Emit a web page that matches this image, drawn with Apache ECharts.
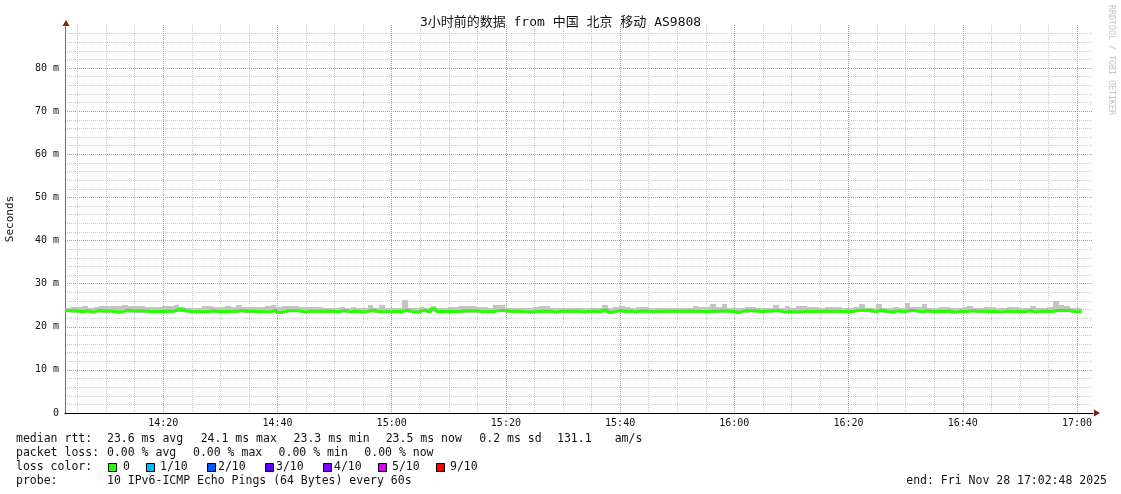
<!DOCTYPE html>
<html><head><meta charset="utf-8">
<script src="https://cdn.jsdelivr.net/npm/echarts@6/dist/echarts.min.js"></script>
<style>html,body{margin:0;padding:0;background:#fff}#c{width:1121px;height:494px}</style>
</head><body><div id="c"></div><script>
// ---------- data ----------
const chartTitle = '3小时前的数据 from 中国 北京 移动 AS9808';
const axisStart = '14:02:48';
const axisEnd = '17:02:48';
const firstBucket = '14:02:48';
const bucketMinutes = 1;
const xTickLabels = ['14:20','14:40','15:00','15:20','15:40','16:00','16:20','16:40','17:00'];
const yTickValues = [0,10,20,30,40,50,60,70,80];
const yUnit = 'm';
const yName = 'Seconds';

const median = [
23.7,23.7,23.5,23.7,23.35,23.8,23.65,23.65,23.4,23.4,
23.85,23.7,23.7,23.7,23.55,23.55,23.55,23.6,23.6,24.0,
23.9,23.5,23.5,23.5,23.5,23.7,23.55,23.55,23.55,23.6,
23.8,23.6,23.6,23.5,23.5,23.4,23.85,23.3,23.7,23.7,
23.7,23.4,23.6,23.6,23.6,23.6,23.6,23.5,23.8,23.5,
23.65,23.35,23.55,23.9,23.5,23.5,23.5,23.55,23.55,23.85,
23.45,23.45,23.85,23.4,24.1,23.55,23.55,23.55,23.55,23.7,
23.7,23.7,23.5,23.5,23.5,23.75,23.75,23.6,23.6,23.55,
23.4,23.4,23.6,23.6,23.6,23.35,23.6,23.6,23.6,23.6,
23.45,23.6,23.6,23.4,23.9,23.35,23.75,23.6,23.6,23.45,
23.65,23.65,23.45,23.6,23.6,23.6,23.6,23.6,23.6,23.6,
23.6,23.55,23.55,23.65,23.65,23.65,23.55,23.35,23.7,23.7,
23.7,23.5,23.65,23.65,23.75,23.4,23.55,23.45,23.45,23.6,
23.55,23.6,23.6,23.6,23.6,23.55,23.55,23.55,23.85,23.85,
23.85,23.45,23.9,23.5,23.5,23.7,23.5,23.75,23.75,23.45,
23.7,23.55,23.55,23.6,23.6,23.35,23.55,23.55,23.75,23.6,
23.6,23.55,23.55,23.4,23.65,23.55,23.55,23.5,23.75,23.4,
23.6,23.6,23.6,23.75,23.75,23.75,23.5,23.5
];
const smokeHi = [
24.45,24.6,24.6,24.9,24.45,24.5,24.9,24.9,24.9,24.9,
25.1,24.75,24.75,24.75,24.6,24.6,24.6,24.75,24.75,25.1,
24.6,24.45,24.45,24.45,24.75,24.75,24.6,24.6,24.75,24.5,
25.1,24.6,24.6,24.6,24.6,24.75,25.1,24.6,24.75,24.75,
24.75,24.6,24.6,24.6,24.6,24.45,24.45,24.3,24.5,24.25,
24.6,24.3,24.45,25.1,24.45,25.1,24.3,24.45,24.45,26.2,
24.3,24.3,24.6,24.45,24.75,24.45,24.45,24.6,24.6,24.9,
24.9,24.9,24.6,24.6,24.45,25.1,25.1,24.45,24.45,24.3,
24.3,24.3,24.6,24.9,24.9,24.45,24.3,24.3,24.3,24.3,
24.25,24.45,24.45,24.45,25.1,24.3,24.6,24.9,24.6,24.3,
24.6,24.6,24.3,24.45,24.45,24.3,24.3,24.45,24.45,24.45,
24.9,24.6,24.6,25.2,24.6,25.2,24.45,24.3,24.45,24.6,
24.6,24.45,24.45,24.45,25.1,24.3,24.75,24.45,24.75,24.75,
24.6,24.6,24.45,24.6,24.6,24.6,24.45,24.45,24.6,25.2,
24.45,24.45,25.2,24.45,24.45,24.6,24.45,25.4,24.6,24.6,
25.2,24.45,24.45,24.6,24.6,24.3,24.3,24.6,24.9,24.45,
24.45,24.6,24.6,24.3,24.45,24.6,24.6,24.45,24.3,24.9,
24.45,24.45,24.6,26.0,25.1,24.9,24.45,24.45
];
const smokeLo = [
23.4,23.3,23.2,23.4,23.1,23.4,23.3,23.3,23.1,23.2,
23.5,23.3,23.2,23.3,23.2,23.3,23.3,23.3,23.3,23.5,
23.5,23.2,23.2,23.3,23.2,23.4,23.3,23.2,23.3,23.3,
23.4,23.3,23.3,23.2,23.2,23.1,23.4,23.0,23.3,23.4,
23.4,23.1,23.3,23.3,23.3,23.2,23.2,23.1,23.4,23.2,
23.3,23.1,23.2,23.5,23.2,23.2,23.1,23.2,23.3,23.5,
23.2,23.1,23.5,23.1,23.5,23.2,23.2,23.3,23.2,23.3,
23.2,23.3,23.1,23.2,23.1,23.4,23.4,23.3,23.2,23.2,
23.1,23.0,23.3,23.3,23.2,23.1,23.3,23.3,23.2,23.3,
23.1,23.3,23.3,23.1,23.5,23.1,23.4,23.3,23.3,23.1,
23.3,23.3,23.1,23.3,23.3,23.2,23.3,23.3,23.2,23.3,
23.3,23.2,23.2,23.3,23.3,23.3,23.2,23.0,23.4,23.3,
23.4,23.2,23.3,23.3,23.4,23.1,23.2,23.1,23.2,23.3,
23.2,23.3,23.3,23.3,23.3,23.2,23.2,23.3,23.5,23.5,
23.5,23.2,23.5,23.2,23.2,23.4,23.2,23.4,23.4,23.1,
23.4,23.2,23.2,23.3,23.3,23.0,23.2,23.2,23.4,23.3,
23.3,23.2,23.2,23.1,23.3,23.2,23.2,23.2,23.4,23.1,
23.3,23.3,23.3,23.4,23.4,23.4,23.2,23.2
];

const rowMedian = ['median rtt:', '23.6 ms avg', '24.1 ms max', '23.3 ms min', '23.5 ms now', '0.2 ms sd', '131.1', 'am/s'];
const rowLoss = ['packet loss:', '0.00 % avg', '0.00 % max', '0.00 % min', '0.00 % now'];
const lossLabel = 'loss color:';
const lossNames = ['0', '1/10', '2/10', '3/10', '4/10', '5/10', '9/10'];
const lossColors = ['#26ff00', '#00b8ff', '#0059ff', '#5e00ff', '#7e00ff', '#dd00ff', '#ff0000'];
const rowProbe = ['probe:', '10 IPv6-ICMP Echo Pings (64 Bytes) every 60s'];
const endText = 'end: Fri Nov 28 17:02:48 2025';
const watermark = 'RRDTOOL / TOBI OETIKER';

// ---------- helpers ----------
function toMin(s) { const p = s.split(':').map(Number); return p[0]*60 + p[1] + (p[2]||0)/60; }
function fmtMin(v) { const h = Math.floor(v/60), m = Math.round(v - h*60); return String(h).padStart(2,'0') + ':' + String(m).padStart(2,'0'); }

const x0 = toMin(firstBucket);
const xs = median.map((_, i) => x0 + i*bucketMinutes);
xs.push(x0 + median.length*bucketMinutes);
const medData = median.concat([median[median.length-1]]).map((v, i) => [xs[i], v]);
const smokeData = smokeHi.map((v, i) => [xs[i], xs[i+1], smokeLo[i], v]);

const xMin = toMin(axisStart), xMax = toMin(axisEnd);
const majorTimes = xTickLabels.map(toMin);
const minorTimes = [];
for (let t = Math.ceil(xMin/5)*5; t <= xMax; t += 5) {
  if (majorTimes.indexOf(t) < 0) minorTimes.push(t);
}

// ---------- layout ----------
const MONO = '"DejaVu Sans Mono", "Noto Sans CJK SC", monospace';
const LF = '11.5px ' + MONO;
const rowY = [439.5, 453.5, 467.5, 481.5];
const rowMedianX = [16, 107, 200.7, 293.6, 385.7, 479.3, 557, 614.7];
const rowLossX = [16, 107, 193, 278.6, 364.3];
const boxX = [108, 145.7, 206.8, 265, 323, 378, 435.7];
const boxTextX = [123, 160, 218, 276, 334, 392, 450];
const MAJOR = '#f58080', MINOR = '#cacaca';

const g = [];
function txt(x, y, s, font, opts) {
  g.push(Object.assign({ type: 'text', x: x, y: y, silent: true,
    style: Object.assign({ text: s, font: font, fill: '#111', align: 'left', verticalAlign: 'middle' }, (opts && opts.style) || {}) },
    (opts && opts.el) || {}));
}
rowMedian.forEach((s, i) => txt(rowMedianX[i], rowY[0], s, LF));
rowLoss.forEach((s, i) => txt(rowLossX[i], rowY[1], s, LF));
txt(16, rowY[2], lossLabel, LF);
lossNames.forEach((s, i) => {
  g.push({ type: 'rect', silent: true, shape: { x: Math.round(boxX[i]) + 0.5, y: Math.round(rowY[2] - 4.5) + 0.5, width: 8, height: 8 },
    style: { fill: lossColors[i], stroke: '#000', lineWidth: 1 } });
  txt(boxTextX[i], rowY[2], s, LF);
});
txt(16, rowY[3], rowProbe[0], LF);
txt(107, rowY[3], rowProbe[1], LF);
txt(1107, rowY[3], endText, LF, { style: { align: 'right' } });
txt(560.5, 22.5, chartTitle, '13px ' + MONO, { style: { align: 'center' } });
txt(10, 219, yName, '11px ' + MONO, { style: { align: 'center' }, el: { rotation: Math.PI/2 } });
txt(1111, 5, watermark, '8.3px ' + MONO, { style: { fill: '#c4c4c4' }, el: { rotation: -Math.PI/2 } });
// axis arrows
g.push({ type: 'polygon', silent: true, shape: { points: [[62.5, 26], [69.5, 26], [66, 20]] }, style: { fill: '#801f1f' } });
g.push({ type: 'polygon', silent: true, shape: { points: [[1094, 409.5], [1094, 416.5], [1100, 413]] }, style: { fill: '#801f1f' } });

const chart = echarts.init(document.getElementById('c'), null, { renderer: 'canvas' });
chart.setOption({
  animation: false,
  backgroundColor: '#fff',
  grid: { left: 65, right: 28, top: 25, bottom: 81, containLabel: false },
  xAxis: [{
    type: 'value', min: xMin, max: xMax, position: 'bottom',
    axisLine: { show: true, onZero: false, lineStyle: { color: '#000', width: 1 } },
    axisTick: { show: false, customValues: majorTimes },
    splitLine: { show: true, lineStyle: { color: MAJOR, type: [1, 1], width: 1 } },
    axisLabel: {
      customValues: majorTimes,
      formatter: v => fmtMin(v),
      margin: 5, fontSize: 10, fontFamily: MONO, color: '#111'
    }
  }, {
    type: 'value', min: xMin, max: xMax, position: 'top',
    axisLine: { show: false },
    axisTick: { show: false, customValues: minorTimes },
    axisLabel: { show: false },
    splitLine: { show: true, lineStyle: { color: MINOR, type: [1, 1], width: 1 } }
  }],
  yAxis: {
    type: 'value', min: 0, max: 90, interval: 10,
    axisLine: { show: true, lineStyle: { color: '#707070', width: 1 } },
    axisTick: { show: false },
    axisLabel: {
      formatter: v => (v === 0 ? '0' : v + ' ' + yUnit),
      showMaxLabel: false,
      margin: 6, fontSize: 10, fontFamily: MONO, color: '#111'
    },
    splitLine: { show: true, showMinLine: false, showMaxLine: false, lineStyle: { color: MAJOR, type: [1, 1], width: 1 } },
    minorTick: { show: false, splitNumber: 5 },
    minorSplitLine: { show: true, lineStyle: { color: MINOR, type: [1, 1], width: 1 } }
  },
  series: [
    { name: 'smoke', type: 'custom', xAxisIndex: 0, data: smokeData, z: 2, silent: true,
      renderItem: function (params, api) {
        const p1 = api.coord([api.value(0), api.value(3)]);
        const p2 = api.coord([api.value(1), api.value(2)]);
        const x = Math.round(p1[0]), x2 = Math.round(p2[0]);
        const y = Math.round(p1[1]), y2 = Math.round(p2[1]);
        return { type: 'rect', shape: { x: x, y: y, width: x2 - x, height: Math.max(1, y2 - y) },
          style: { fill: '#c4c4c4' } };
      } },
    { name: 'median', type: 'line', xAxisIndex: 0, step: 'end', data: medData, symbol: 'none',
      lineStyle: { color: '#26ff00', width: 3 }, z: 3, silent: true }
  ],
  graphic: g
});
</script></body></html>
